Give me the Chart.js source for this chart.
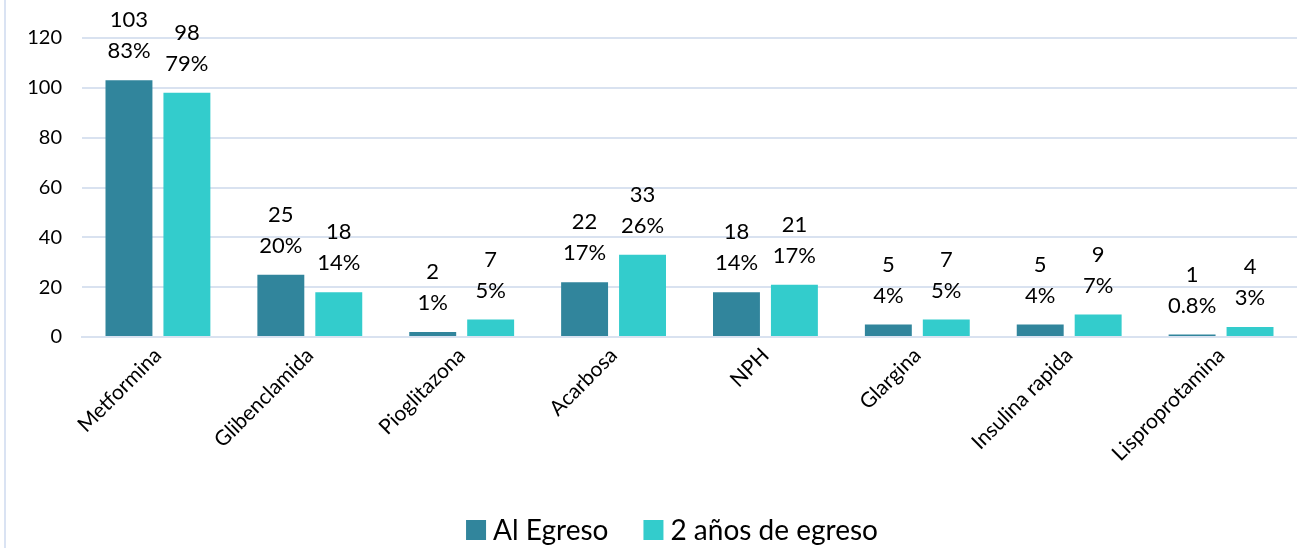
<!DOCTYPE html>
<html><head><meta charset="utf-8">
<script src="https://cdn.jsdelivr.net/npm/chart.js@4.4.1/dist/chart.umd.min.js"></script>
<style>
html,body{margin:0;padding:0;background:#fff;}
#wrap{position:absolute;left:4px;top:0;width:1293px;height:548px;border-left:2px solid #dae3f3;}
canvas{display:block;}
</style></head>
<body>
<div id="wrap"><canvas id="c" width="1291" height="548"></canvas></div>
<script>
const categories = ["Metformina","Glibenclamida","Pioglitazona","Acarbosa","NPH","Glargina","Insulina rapida","Lisproprotamina"];
const alEgreso = [103,25,2,22,18,5,5,1];
const alEgresoPct = ["83%","20%","1%","17%","14%","4%","4%","0.8%"];
const dosAnios = [98,18,7,33,21,7,9,4];
const dosAniosPct = ["79%","14%","5%","26%","17%","5%","7%","3%"];
const yTicks = [0,20,40,60,80,100,120];

const FONT = "Lato, 'Open Sans', sans-serif";

const labelPlugin = {
  id: 'twoLineLabels',
  afterDatasetsDraw(chart) {
    const ctx = chart.ctx;
    const pcts = [alEgresoPct, dosAniosPct];
    ctx.save();
    ctx.font = "22px " + FONT;
    ctx.fillStyle = "#000";
    ctx.textAlign = "center";
    ctx.textBaseline = "middle";
    chart.data.datasets.forEach((ds, di) => {
      const meta = chart.getDatasetMeta(di);
      meta.data.forEach((bar, i) => {
        ctx.fillText(pcts[di][i], bar.x, bar.y - 29);
        ctx.fillText(String(ds.data[i]), bar.x, bar.y - 60);
      });
    });
    ctx.restore();
  }
};

const legendPlugin = {
  id: 'bottomLegend',
  afterDraw(chart) {
    const ctx = chart.ctx;
    ctx.save();
    ctx.font = "28px " + FONT;
    ctx.textBaseline = "middle";
    ctx.textAlign = "left";
    const items = chart.data.datasets.map(ds => ({text: ds.label, color: ds.backgroundColor, w: ctx.measureText(ds.label).width}));
    const box = 20, gapText = 7, gapItem = 35;
    let total = 0;
    items.forEach((it, i) => { total += box + gapText + it.w + (i < items.length - 1 ? gapItem : 0); });
    let x = 666 - total / 2;
    const y = 530;
    items.forEach(it => {
      ctx.fillStyle = it.color;
      ctx.fillRect(x, y - box / 2, box, box);
      ctx.fillStyle = "#000";
      ctx.fillText(it.text, x + box + gapText, y + 1);
      x += box + gapText + it.w + gapItem;
    });
    ctx.restore();
  }
};

new Chart(document.getElementById('c'), {
  type: 'bar',
  data: {
    labels: categories,
    datasets: [
      {label: "Al Egreso", data: alEgreso, backgroundColor: "#31859c", barPercentage: 0.81, categoryPercentage: 0.763},
      {label: "2 años de egreso", data: dosAnios, backgroundColor: "#33cccc", barPercentage: 0.81, categoryPercentage: 0.763}
    ]
  },
  plugins: [labelPlugin, legendPlugin],
  options: {
    responsive: false,
    animation: false,
    layout: {padding: {top: 38, right: 0, left: 0, bottom: 0}},
    plugins: {
      legend: {display: false},
      tooltip: {enabled: false}
    },
    scales: {
      y: {
        min: 0, max: 120,
        afterBuildTicks(axis) { axis.ticks = yTicks.map(v => ({value: v})); },
        afterFit(axis) { axis.width = 76; },
        ticks: {font: {size: 20, family: FONT}, color: "#000", padding: 20},
        grid: {color: "#d9e2f0", lineWidth: 2, drawTicks: false},
        border: {display: false}
      },
      x: {
        afterFit(axis) { axis.height = 211; },
        ticks: {font: {size: 21, family: FONT}, color: "#000", maxRotation: 45, minRotation: 45, padding: 6},
        grid: {display: false, drawTicks: false},
        border: {display: true, color: "#d9e2f0", width: 2}
      }
    }
  }
});
</script>
</body></html>
